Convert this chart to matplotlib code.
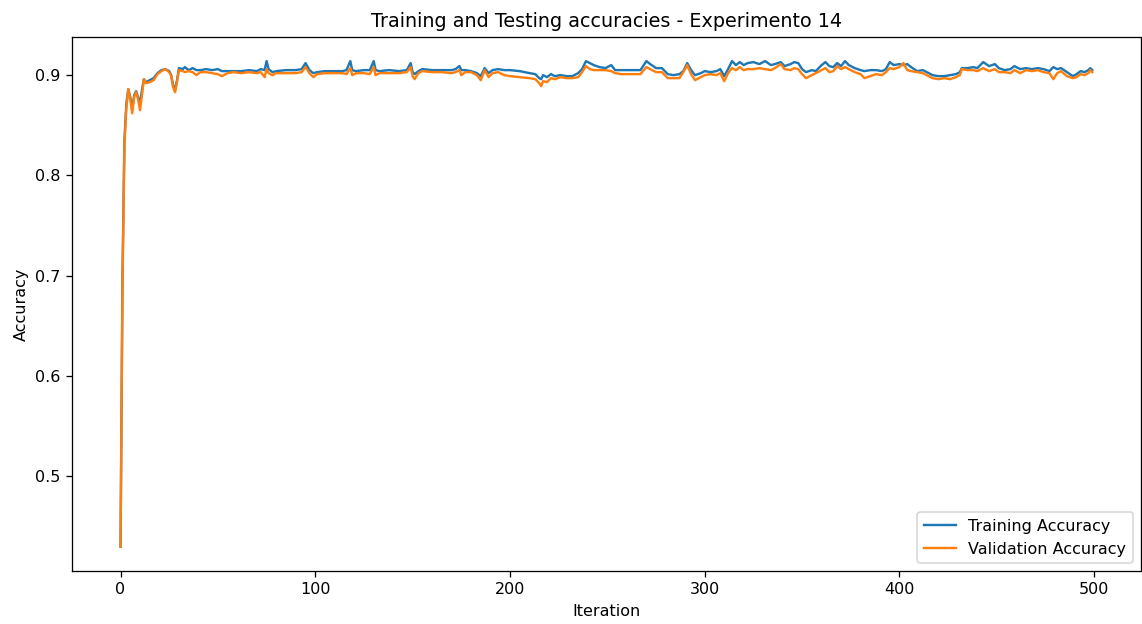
import matplotlib
matplotlib.use('Agg')
import matplotlib.pyplot as plt

# values (iteration, train acc, validation acc)
iteration = [0, 1, 2, 3, 4, 5, 6, 7, 8, 9, 10, 11, 12, 13, 15, 17, 19, 21, 23, 25,
             26, 27, 28, 29, 30, 32, 33, 35, 37, 39, 41, 44, 47, 50, 52, 55, 58, 62, 66, 70,
             72, 74, 75, 76, 78, 80, 85, 90, 93, 95, 97, 99, 101, 105, 110, 114, 116, 118, 119, 121,
             125, 128, 130, 131, 133, 138, 143, 147, 149, 150, 151, 153, 155, 160, 165, 170, 172, 174, 175, 177,
             180, 183, 185, 187, 189, 191, 194, 197, 200, 205, 210, 213, 215, 216, 217, 219, 221, 223, 226, 229,
             232, 235, 237, 239, 241, 243, 246, 249, 252, 254, 257, 262, 267, 270, 272, 275, 278, 281, 284, 287,
             289, 291, 293, 295, 298, 300, 303, 306, 308, 310, 312, 314, 316, 318, 320, 322, 325, 328, 331, 334,
             336, 339, 341, 344, 346, 348, 350, 352, 355, 357, 360, 362, 364, 366, 368, 370, 372, 374, 377, 380,
             382, 385, 388, 391, 393, 395, 397, 400, 402, 404, 406, 409, 412, 414, 417, 420, 423, 426, 429, 431,
             432, 435, 438, 440, 443, 446, 449, 451, 454, 457, 459, 462, 465, 468, 471, 474, 477, 479, 481, 483,
             486, 489, 491, 493, 495, 497, 498, 499]

train_acc = [0.430, 0.700, 0.835, 0.872, 0.886, 0.878, 0.866, 0.880, 0.884, 0.878, 0.872, 0.885, 0.896, 0.893, 0.895, 0.897, 0.902, 0.905, 0.906, 0.904,
             0.900, 0.890, 0.885, 0.895, 0.907, 0.906, 0.908, 0.905, 0.907, 0.905, 0.905, 0.906, 0.905, 0.906, 0.904, 0.904, 0.904, 0.904, 0.905, 0.904,
             0.906, 0.905, 0.914, 0.906, 0.903, 0.904, 0.905, 0.905, 0.906, 0.912, 0.905, 0.902, 0.903, 0.904, 0.904, 0.904, 0.905, 0.914, 0.905, 0.904,
             0.905, 0.905, 0.914, 0.905, 0.904, 0.905, 0.904, 0.905, 0.912, 0.903, 0.901, 0.904, 0.906, 0.905, 0.905, 0.905, 0.906, 0.909, 0.905, 0.905,
             0.904, 0.902, 0.899, 0.907, 0.902, 0.905, 0.906, 0.905, 0.905, 0.904, 0.902, 0.901, 0.897, 0.896, 0.900, 0.898, 0.901, 0.899, 0.900, 0.899,
             0.899, 0.902, 0.906, 0.914, 0.912, 0.910, 0.908, 0.907, 0.910, 0.905, 0.905, 0.905, 0.905, 0.914, 0.911, 0.907, 0.907, 0.901, 0.900, 0.901,
             0.904, 0.912, 0.905, 0.900, 0.902, 0.904, 0.903, 0.904, 0.906, 0.899, 0.906, 0.914, 0.910, 0.913, 0.910, 0.912, 0.913, 0.911, 0.914, 0.910,
             0.911, 0.913, 0.909, 0.911, 0.913, 0.912, 0.906, 0.903, 0.905, 0.904, 0.910, 0.913, 0.909, 0.908, 0.912, 0.909, 0.914, 0.910, 0.907, 0.905,
             0.904, 0.905, 0.905, 0.904, 0.906, 0.913, 0.910, 0.911, 0.910, 0.911, 0.908, 0.904, 0.905, 0.903, 0.900, 0.899, 0.899, 0.900, 0.901, 0.903,
             0.907, 0.907, 0.908, 0.907, 0.913, 0.909, 0.911, 0.907, 0.905, 0.906, 0.909, 0.906, 0.907, 0.906, 0.907, 0.906, 0.904, 0.908, 0.906, 0.907,
             0.903, 0.899, 0.901, 0.904, 0.903, 0.905, 0.907, 0.905]

val_acc = [0.430, 0.690, 0.830, 0.868, 0.886, 0.876, 0.862, 0.878, 0.883, 0.876, 0.865, 0.880, 0.896, 0.892, 0.893, 0.895, 0.901, 0.904, 0.906, 0.903,
           0.899, 0.888, 0.883, 0.893, 0.905, 0.904, 0.903, 0.904, 0.903, 0.900, 0.903, 0.903, 0.902, 0.901, 0.899, 0.902, 0.903, 0.902, 0.903, 0.902,
           0.903, 0.898, 0.906, 0.902, 0.900, 0.902, 0.902, 0.902, 0.903, 0.908, 0.902, 0.898, 0.901, 0.902, 0.902, 0.902, 0.901, 0.907, 0.900, 0.902,
           0.902, 0.901, 0.908, 0.900, 0.902, 0.902, 0.902, 0.903, 0.908, 0.899, 0.896, 0.902, 0.904, 0.903, 0.903, 0.902, 0.903, 0.905, 0.900, 0.903,
           0.903, 0.900, 0.895, 0.905, 0.898, 0.902, 0.903, 0.900, 0.899, 0.898, 0.897, 0.896, 0.892, 0.889, 0.894, 0.893, 0.897, 0.896, 0.898, 0.897,
           0.897, 0.898, 0.903, 0.909, 0.906, 0.905, 0.905, 0.905, 0.904, 0.902, 0.901, 0.901, 0.901, 0.908, 0.906, 0.903, 0.903, 0.897, 0.897, 0.897,
           0.903, 0.910, 0.901, 0.895, 0.898, 0.900, 0.901, 0.900, 0.902, 0.894, 0.902, 0.907, 0.905, 0.908, 0.905, 0.906, 0.906, 0.907, 0.906, 0.905,
           0.907, 0.911, 0.906, 0.905, 0.907, 0.906, 0.901, 0.897, 0.900, 0.902, 0.905, 0.907, 0.903, 0.904, 0.909, 0.906, 0.908, 0.906, 0.903, 0.901,
           0.897, 0.899, 0.901, 0.900, 0.903, 0.907, 0.906, 0.908, 0.912, 0.905, 0.904, 0.903, 0.902, 0.900, 0.897, 0.896, 0.897, 0.896, 0.898, 0.900,
           0.906, 0.905, 0.905, 0.904, 0.907, 0.904, 0.906, 0.903, 0.903, 0.902, 0.905, 0.902, 0.905, 0.904, 0.905, 0.903, 0.902, 0.896, 0.902, 0.904,
           0.899, 0.897, 0.898, 0.901, 0.900, 0.902, 0.905, 0.903]

# reference looks rendered at ~115 dpi
fig = plt.figure(figsize=(1142 / 115, 624 / 115), dpi=115)
ax = fig.add_subplot(111)
fig.subplots_adjust(left=0.063, right=0.999, top=0.941, bottom=0.085)

ax.plot(iteration, train_acc, label='Training Accuracy')
ax.plot(iteration, val_acc, label='Validation Accuracy')
ax.set_title('Training and Testing accuracies - Experimento 14')
ax.set_xlabel('Iteration')
ax.set_ylabel('Accuracy')
ax.legend(loc='lower right')

fig.savefig('out.png', dpi=115)
